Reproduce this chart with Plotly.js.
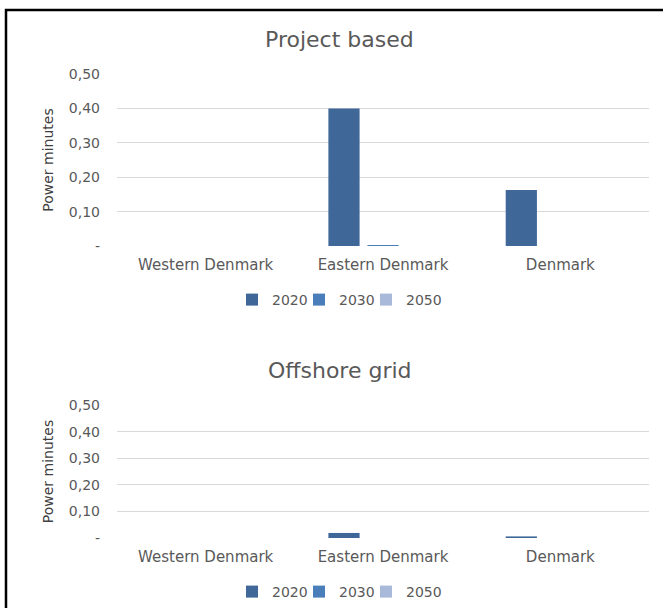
<!DOCTYPE html>
<html>
<head>
<meta charset="utf-8">
<script src="https://cdn.plot.ly/plotly-3.0.1.min.js"></script>
<style>html,body{margin:0;padding:0;background:#fff;}#chart{width:663px;height:608px;}</style>
</head>
<body>
<div id="chart"></div>
<script>
const categories = ["Western Denmark", "Eastern Denmark", "Denmark"];
const seriesNames = ["2020", "2030", "2050"];
const projectBased2020 = [0, 0.40, 0.163];
const projectBased2030 = [0, 0.003, 0];
const projectBased2050 = [0, 0, 0];
const offshore2020 = [0, 0.019, 0.006];
const offshore2030 = [0, 0, 0];
const offshore2050 = [0, 0, 0];
const tickValues = [0, 0.1, 0.2, 0.3, 0.4, 0.5];
const tickLabels = ["-", "0,10", "0,20", "0,30", "0,40", "0,50"];
const colors = ["#3f6899", "#4a7ebb", "#a8b9d9"];

const FONT = "DejaVu Sans, sans-serif";
const GREY = "#595959";

function mk(vals, i, xa, ya, legend) {
  return {
    type: "bar", x: categories, y: vals, name: seriesNames[i],
    xaxis: xa, yaxis: ya, legend: legend,
    marker: {color: colors[i], line: {width: 0}},
    hoverinfo: "y"
  };
}
// invisible legend spacer (on a hidden axis) so the last legend label is not clipped
function spacer(legend) {
  return {
    type: "bar", x: [null], y: [null], name: " ", xaxis: "x3", yaxis: "y3", legend: legend,
    marker: {color: "rgba(0,0,0,0)", line: {width: 0}}, hoverinfo: "skip"
  };
}

const data = [
  mk(projectBased2020, 0, "x", "y", "legend"),
  mk(projectBased2030, 1, "x", "y", "legend"),
  mk(projectBased2050, 2, "x", "y", "legend"),
  spacer("legend"),
  mk(offshore2020, 0, "x2", "y2", "legend2"),
  mk(offshore2030, 1, "x2", "y2", "legend2"),
  mk(offshore2050, 2, "x2", "y2", "legend2"),
  spacer("legend2")
];

const xdom = [117/663, 649/663];
function xaxisDef(anchor) {
  return {
    domain: xdom, anchor: anchor, showgrid: false, zeroline: false,
    showline: false, ticks: "", ticklabelstandoff: 8,
    tickfont: {family: FONT, size: 15, color: GREY}
  };
}
function yaxisDef(anchor, dom) {
  return {
    domain: dom, anchor: anchor, range: [0, 0.5],
    tickvals: tickValues, ticktext: tickLabels,
    showgrid: true, gridcolor: "#d9d9d9", gridwidth: 1,
    zeroline: false, showline: false, ticks: "",
    ticklabelstandoff: 16,
    tickfont: {family: FONT, size: 14, color: GREY},
    title: {text: "Power minutes", font: {family: FONT, size: 14, color: "#404040"}, standoff: 11}
  };
}
const legendDef = (y) => ({
  orientation: "h", x: 232/663, xanchor: "left", y: y, yanchor: "middle",
  font: {family: FONT, size: 14, color: GREY}, entrywidth: 22, entrywidthmode: "pixels",
  itemwidth: 30, bgcolor: "rgba(0,0,0,0)", borderwidth: 0,
  itemclick: false
});

const layout = {
  width: 663, height: 608,
  margin: {l: 0, r: 0, t: 0, b: 0},
  paper_bgcolor: "#fff", plot_bgcolor: "#fff",
  barmode: "group", bargap: 0.34, bargroupgap: 0.2,
  showlegend: true,
  xaxis: xaxisDef("y"),
  yaxis: yaxisDef("x", [1 - 246/608, 1 - 74/608]),
  xaxis2: xaxisDef("y2"),
  yaxis2: yaxisDef("x2", [1 - 538/608, 1 - 405/608]),
  xaxis3: {visible: false, domain: [0.5, 0.51], anchor: "y3", fixedrange: true},
  yaxis3: {visible: false, domain: [0.5, 0.51], anchor: "x3", fixedrange: true},
  legend: legendDef(1 - 300/608),
  legend2: legendDef(1 - 592/608),
  annotations: [
    {text: "Project based", xref: "paper", yref: "paper", x: 340/663, y: 1 - 40/608,
     xanchor: "center", yanchor: "middle", showarrow: false,
     font: {family: FONT, size: 22, color: GREY}},
    {text: "Offshore grid", xref: "paper", yref: "paper", x: 340/663, y: 1 - 370/608,
     xanchor: "center", yanchor: "middle", showarrow: false,
     font: {family: FONT, size: 22, color: GREY}}
  ],
  shapes: [
    {type: "path", xref: "paper", yref: "paper",
     path: "M " + (6/663) + " 0 L " + (6/663) + " " + (1 - 10/608) + " L 1 " + (1 - 10/608),
     line: {color: "#000", width: 2.5}, layer: "above"}
  ]
};

Plotly.newPlot("chart", data, layout, {staticPlot: true, displayModeBar: false});
</script>
</body>
</html>
